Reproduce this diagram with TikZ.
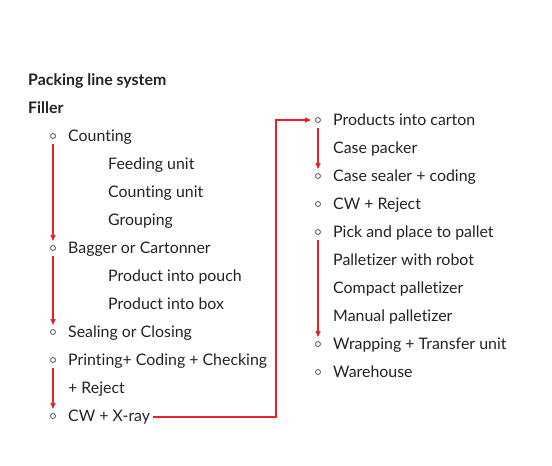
\documentclass[tikz,border=0pt]{standalone}
\usepackage{fontspec}
\setmainfont{Lato}[Ligatures={NoCommon}]
\usetikzlibrary{arrows.meta}
\definecolor{flowred}{HTML}{E8202A}
\definecolor{txtgray}{HTML}{222228}
\definecolor{dotgray}{HTML}{6A6A6A}
\tikzset{
  item/.style={anchor=base west, inner sep=0pt, text=txtgray, font=\fontsize{15.9}{18}\selectfont},
  head/.style={item, font=\fontsize{15.9}{18}\selectfont\bfseries},
  dot/.style={circle, draw=dotgray, line width=0.9pt, minimum size=5pt, inner sep=0pt},
  flow/.style={draw=flowred, line width=1.3pt, -{Triangle[length=6pt,width=5pt]}, shorten <=5pt, shorten >=4pt},
}
\begin{document}
\begin{tikzpicture}[x=1pt,y=-1pt]
        \useasboundingbox (0,0) rectangle (552,466);

        % titres
        \node[head] (title) at (28,85) {Packing line system};
        \node[head] (filler) at (28,113) {Filler};

        % colonne de gauche
        \node[dot] (dCounting) at (53,136) {};
        \node[item] (counting) at (68,141) {Counting};
        \node[item] (feeding) at (108,169) {Feeding unit};
        \node[item] (countunit) at (108,197) {Counting unit};
        \node[item] (grouping) at (108,225) {Grouping};
        \node[dot] (dBagger) at (53,248) {};
        \node[item] (bagger) at (68,253) {Bagger or Cartonner};
        \node[item] (pouch) at (108,281) {Product into pouch};
        \node[item] (box) at (108,309) {Product into box};
        \node[dot] (dSealing) at (53,332) {};
        \node[item] (sealing) at (68,337) {Sealing or Closing};
        \node[dot] (dPrinting) at (53,360) {};
        \node[item] (printing) at (68,365) {Printing+ Coding + Checking};
        \node[item] (reject) at (68,393) {+ Reject};
        \node[dot] (dXray) at (53,416) {};
        \node[item] (xray) at (68,421) {CW + X-ray};

        % colonne de droite
        \node[dot] (dCarton) at (318,120) {};
        \node[item] (carton) at (333,125) {Products into carton};
        \node[item] (casepacker) at (333,153) {Case packer};
        \node[dot] (dSealer) at (318,176) {};
        \node[item] (sealer) at (333,181) {Case sealer + coding};
        \node[dot] (dCwReject) at (318,204) {};
        \node[item] (cwreject) at (333,209) {CW + Reject};
        \node[dot] (dPick) at (318,232) {};
        \node[item] (pick) at (333,237) {Pick and place to pallet};
        \node[item] (robot) at (333,265) {Palletizer with robot};
        \node[item] (compact) at (333,293) {Compact palletizer};
        \node[item] (manual) at (333,321) {Manual palletizer};
        \node[dot] (dWrapping) at (318,344) {};
        \node[item] (wrapping) at (333,349) {Wrapping + Transfer unit};
        \node[dot] (dWarehouse) at (318,372) {};
        \node[item] (warehouse) at (333,377) {Warehouse};

        % fleches
        \draw[flow] (dCounting) -- (dBagger);
        \draw[flow] (dBagger) -- (dSealing);
        \draw[flow] (dPrinting) -- (dXray);
        \draw[flow] (dCarton) -- (dSealer);
        \draw[flow] (dPick) -- (dWrapping);

        % retour vers la colonne de droite
        \coordinate (bend) at (276,417);
        \draw[flow, shorten <=3pt] (xray.east |- bend) -- (bend) |- (dCarton);
    \end{tikzpicture}
\end{document}
